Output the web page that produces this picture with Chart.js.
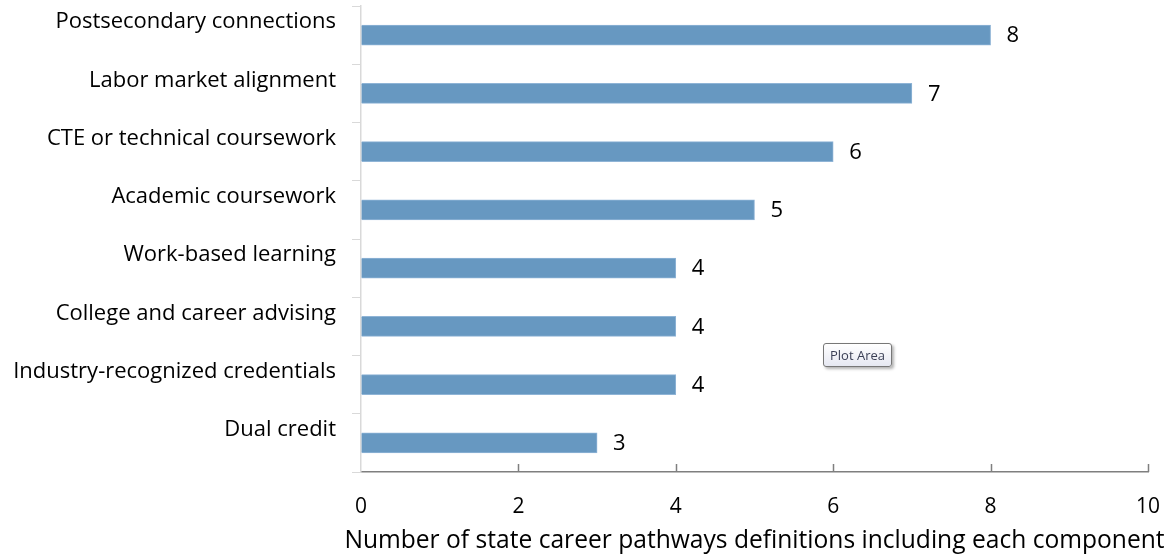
<!DOCTYPE html>
<html>
<head>
<meta charset="utf-8">
<script src="https://cdn.jsdelivr.net/npm/chart.js@4/dist/chart.umd.min.js"></script>
<style>
  html, body { margin: 0; padding: 0; background: #fff; }
  #wrap { position: relative; width: 1171px; height: 556px; }
  #tip {
    position: absolute; left: 823px; top: 343px;
    padding: 2px 6px; font: 13px "Open Sans", sans-serif; color: #3a3f55;
    background: linear-gradient(#fff, #e6e8f2); border: 1px solid #777;
    border-radius: 3px; box-shadow: 2px 2px 3px rgba(0,0,0,0.3);
  }
</style>
</head>
<body>
<div id="wrap">
  <canvas id="chart" width="1171" height="556"></canvas>
  <div id="tip">Plot Area</div>
</div>
<script>
const categories = [
  'Postsecondary connections',
  'Labor market alignment',
  'CTE or technical coursework',
  'Academic coursework',
  'Work-based learning',
  'College and career advising',
  'Industry-recognized credentials',
  'Dual credit'
];
const counts = [8, 7, 6, 5, 4, 4, 4, 3];
const xTicks = [0, 2, 4, 6, 8, 10];
const axisTitle = 'Number of state career pathways definitions including each component';

const FONT = '"Open Sans", sans-serif';

// value labels to the right of each bar
const valueLabels = {
  id: 'valueLabels',
  afterDatasetsDraw(chart) {
    const ctx = chart.ctx;
    const meta = chart.getDatasetMeta(0);
    ctx.save();
    ctx.font = '22px ' + FONT;
    ctx.fillStyle = '#000';
    ctx.textAlign = 'left';
    ctx.textBaseline = 'middle';
    meta.data.forEach((bar, i) => {
      ctx.fillText(String(counts[i]), bar.x + 16, bar.y + 1);
    });
    ctx.restore();
  }
};

// small tick marks pointing up into the plot on the x axis,
// plus the axis title (the built-in one gets squeezed to the axis width)
const xAxisExtras = {
  id: 'xAxisExtras',
  afterDraw(chart) {
    const ctx = chart.ctx;
    const xs = chart.scales.x;
    const bottom = chart.chartArea.bottom;
    ctx.save();
    ctx.strokeStyle = '#7f7f7f';
    ctx.lineWidth = 1.5;
    xTicks.forEach(v => {
      if (v === 0) return;
      const px = Math.round(xs.getPixelForValue(v)) + 0.5;
      ctx.beginPath();
      ctx.moveTo(px, bottom - 8);
      ctx.lineTo(px, bottom);
      ctx.stroke();
    });
    ctx.font = '24.6px ' + FONT;
    ctx.fillStyle = '#000';
    ctx.textAlign = 'center';
    ctx.textBaseline = 'alphabetic';
    ctx.fillText(axisTitle, (xs.left + xs.right) / 2, xs.bottom - 8);
    ctx.restore();
  }
};

new Chart(document.getElementById('chart'), {
  type: 'bar',
  data: {
    labels: categories,
    datasets: [{
      data: counts,
      backgroundColor: '#6798c1',
      borderColor: '#8fb4d6',
      borderWidth: 1,
      barThickness: 20
    }]
  },
  options: {
    indexAxis: 'y',
    responsive: false,
    animation: false,
    layout: { padding: { top: 6, right: 23, left: 0, bottom: 0 } },
    plugins: {
      legend: { display: false },
      tooltip: { enabled: false }
    },
    scales: {
      x: {
        min: 0,
        max: 10,
        afterBuildTicks: scale => { scale.ticks = xTicks.map(v => ({ value: v })); },
        afterFit: scale => {
          scale.height = 84;
          scale.paddingLeft = 0;
          scale.paddingRight = 0;
        },
        grid: { display: true, drawOnChartArea: false, drawTicks: false },
        border: { color: '#7f7f7f', width: 1.5 },
        ticks: { padding: 22, color: '#000', font: { family: FONT, size: 21 } },
        title: { display: false }
      },
      y: {
        afterFit: scale => {
          scale.width = 361;
          scale.paddingTop = 0;
          scale.paddingBottom = 0;
        },
        grid: { drawOnChartArea: false, tickLength: 9, color: '#d9d9d9', offset: true },
        border: { color: '#d9d9d9', width: 1.5 },
        ticks: {
          padding: 16,
          labelOffset: -13,
          color: '#000',
          font: { family: FONT, size: 22 }
        }
      }
    }
  },
  plugins: [valueLabels, xAxisExtras]
});
</script>
</body>
</html>
